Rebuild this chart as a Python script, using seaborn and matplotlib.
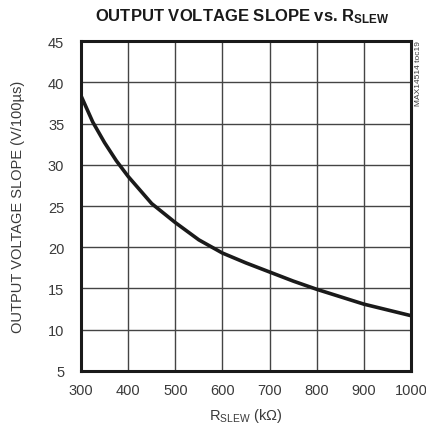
import matplotlib
matplotlib.use("Agg")
import matplotlib.pyplot as plt
import seaborn as sns
import pandas as pd

# Data
r_slew = [300, 325, 350, 375, 400, 450, 500, 550, 600, 650, 700, 750, 800, 850, 900, 950, 1000]
slope = [38.4, 35.2, 32.7, 30.5, 28.6, 25.3, 23.0, 20.9, 19.3, 18.1, 17.0, 15.9, 14.9, 14.0, 13.1, 12.4, 11.7]
x_ticks = [300, 400, 500, 600, 700, 800, 900, 1000]
y_ticks = [5, 10, 15, 20, 25, 30, 35, 40, 45]

sns.set_theme(style="white")
plt.rcParams["font.family"] = ["Liberation Sans", "DejaVu Sans"]
plt.rcParams["mathtext.fontset"] = "custom"
plt.rcParams["mathtext.rm"] = "Liberation Sans"
plt.rcParams["mathtext.bf"] = "Liberation Sans:bold"
plt.rcParams["mathtext.default"] = "regular"

df = pd.DataFrame({"R": r_slew, "S": slope})

fig = plt.figure(figsize=(4.26, 4.35), dpi=100)
ax = fig.add_axes([0.190, 0.145, 0.775, 0.758])
sns.lineplot(data=df, x="R", y="S", ax=ax, color="#1a1a1a", linewidth=2.6)

ax.set_xlim(300, 1000)
ax.set_ylim(5, 45)
ax.set_xticks(x_ticks)
ax.set_yticks(y_ticks)
ax.grid(True, color="#444444", linewidth=1.0)
for s in ax.spines.values():
    s.set_color("#1a1a1a")
    s.set_linewidth(2.2)
ax.tick_params(axis="x", length=0, labelsize=10.5, colors="#3a3a3a", pad=9)
ax.tick_params(axis="y", length=0, labelsize=10.5, colors="#3a3a3a", pad=12)

ax.set_xlabel(r"$\mathregular{R_{SLEW}}$ (k$\Omega$)", fontsize=10.5, color="#3a3a3a")
ax.set_ylabel("OUTPUT VOLTAGE SLOPE (V/100µs)", fontsize=10.5, color="#3a3a3a")
ax.xaxis.set_label_coords(0.5, -0.133)
ax.xaxis.label.set_va("center")
ax.yaxis.set_label_coords(-0.19, 0.5)
ax.yaxis.label.set_va("center")

fig.text(0.568, 0.962, r"OUTPUT VOLTAGE SLOPE vs. $\mathbf{R_{SLEW}}$", ha="center", va="center",
         fontsize=12, fontweight="bold", color="#1a1a1a")
fig.text(0.983, 0.832, "MAX14514 toc19", rotation=90, ha="center", va="center",
         fontsize=6, color="#3a3a3a")

fig.savefig("out.png", dpi=100)
